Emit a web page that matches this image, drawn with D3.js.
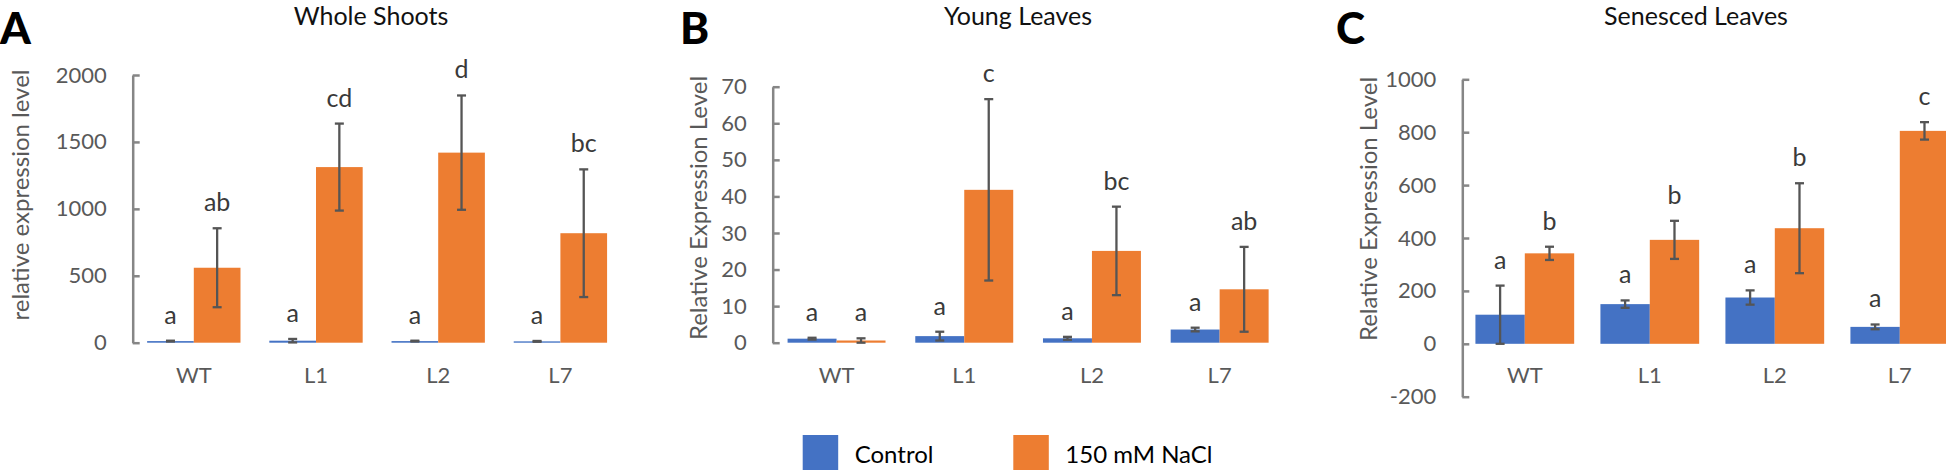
<!DOCTYPE html>
<html>
<head>
<meta charset="utf-8">
<script src="https://cdn.jsdelivr.net/npm/d3@7"></script>
<style>
  html, body { margin: 0; padding: 0; background: #fff; }
  svg { display: block; }
  text { font-family: Lato, "Open Sans", sans-serif; }
</style>
</head>
<body>
<svg id="chart" width="1946" height="470"></svg>
<script>
// ---------- data ----------
const categories = ["WT", "L1", "L2", "L7"];
const seriesNames = ["Control", "150 mM NaCl"];

const panelLetters = ["A", "B", "C"];
const panelTitles = ["Whole Shoots", "Young Leaves", "Senesced Leaves"];
const axisTitles = ["relative expression level", "Relative Expression Level", "Relative Expression Level"];

// Whole Shoots
const shootsControl = [12, 15, 12, 10];
const shootsControlErr = [3, 13, 3, 3];
const shootsNaCl = [560, 1312, 1420, 818];
const shootsNaClErr = [295, 325, 427, 477];
const shootsControlLetters = ["a", "a", "a", "a"];
const shootsNaClLetters = ["ab", "cd", "d", "bc"];
const shootsTicks = [0, 500, 1000, 1500, 2000];

// Young Leaves
const youngControl = [1.1, 1.8, 1.2, 3.6];
const youngControlErr = [0.25, 1.2, 0.4, 0.5];
const youngNaCl = [0.6, 41.8, 25.1, 14.6];
const youngNaClErr = [0.6, 24.8, 12.1, 11.6];
const youngControlLetters = ["a", "a", "a", "a"];
const youngNaClLetters = ["a", "c", "bc", "ab"];
const youngTicks = [0, 10, 20, 30, 40, 50, 60, 70];

// Senesced Leaves
const senescedControl = [110, 150, 175, 64];
const senescedControlErr = [110, 14, 27, 9];
const senescedNaCl = [342, 393, 437, 805];
const senescedNaClErr = [25, 72, 170, 33];
const senescedControlLetters = ["a", "a", "a", "a"];
const senescedNaClLetters = ["b", "b", "b", "c"];
const senescedTicks = [-200, 0, 200, 400, 600, 800, 1000];

// ---------- style ----------
const seriesColors = ["#4472C4", "#ED7D31"];
const axisColor = "#868686";
const labelColor = "#595959";
const letterColor = "#3a3a3a";
const errColor = "#555555";

const svg = d3.select("#chart");

// ---------- panel layouts ----------
const layouts = [
  { x0: 132.7, x1: 621.5, yTop: 75, yBottom: 342.7, domain: [0, 2000], pad: 0.236,
    titleX: 371, letterX: 0, axisTitleX: 19, axisTitleY: 195 },
  { x0: 772.7, x1: 1283.5, yTop: 86.7, yBottom: 342.7, domain: [0, 70], pad: 0.233,
    titleX: 1018, letterX: 680, axisTitleX: 697, axisTitleY: 208 },
  { x0: 1462.3, x1: 1962.3, yTop: 79.3, yBottom: 396.7, domain: [-200, 1000], pad: 0.21,
    titleX: 1696, letterX: 1336, axisTitleX: 1367, axisTitleY: 209 }
];

const panelData = [
  { ticks: shootsTicks, values: [shootsControl, shootsNaCl], errs: [shootsControlErr, shootsNaClErr],
    letters: [shootsControlLetters, shootsNaClLetters] },
  { ticks: youngTicks, values: [youngControl, youngNaCl], errs: [youngControlErr, youngNaClErr],
    letters: [youngControlLetters, youngNaClLetters] },
  { ticks: senescedTicks, values: [senescedControl, senescedNaCl], errs: [senescedControlErr, senescedNaClErr],
    letters: [senescedControlLetters, senescedNaClLetters] }
];

layouts.forEach((L, pi) => {
  const D = panelData[pi];
  const g = svg.append("g");

  const x = d3.scaleBand().domain(categories).range([L.x0, L.x1])
    .paddingInner(L.pad).paddingOuter(L.pad / 2);
  const xs = d3.scaleBand().domain(seriesNames).range([0, x.bandwidth()]);
  const y = d3.scaleLinear().domain(L.domain).range([L.yBottom, L.yTop]);

  // panel letter
  g.append("text").attr("x", L.letterX).attr("y", 44)
    .attr("font-size", 44).attr("font-weight", 900).attr("fill", "#000")
    .text(panelLetters[pi]);

  // title
  g.append("text").attr("x", L.titleX).attr("y", 25).attr("text-anchor", "middle")
    .attr("font-size", 25).attr("fill", "#111").text(panelTitles[pi]);

  // y-axis
  const ax = g.append("g").attr("transform", `translate(${L.x0},0)`)
    .call(d3.axisLeft(y).tickValues(D.ticks).tickSizeInner(-7).tickSizeOuter(0)
      .tickPadding(26).tickFormat(d => String(d)));
  ax.select(".domain").attr("stroke", axisColor).attr("stroke-width", 2.5);
  ax.selectAll(".tick line").attr("stroke", axisColor).attr("stroke-width", 2.5);
  ax.selectAll(".tick text").attr("font-size", 22).attr("fill", labelColor)
    .attr("font-family", "Lato, sans-serif");

  // axis title
  g.append("text")
    .attr("transform", `translate(${L.axisTitleX},${L.axisTitleY}) rotate(-90)`)
    .attr("text-anchor", "middle").attr("dominant-baseline", "central")
    .attr("font-size", 24).attr("fill", labelColor).text(axisTitles[pi]);

  // x labels
  g.selectAll(".xlab").data(categories).enter().append("text")
    .attr("x", d => x(d) + x.bandwidth() / 2).attr("y", 383)
    .attr("text-anchor", "middle").attr("font-size", 22).attr("fill", labelColor)
    .text(d => d);

  // bars, error bars, letters
  seriesNames.forEach((s, si) => {
    const recs = categories.map((c, i) => ({
      c, v: D.values[si][i], e: D.errs[si][i], lab: D.letters[si][i]
    }));
    const cx = d => x(d.c) + xs(s) + xs.bandwidth() / 2;

    g.selectAll(null).data(recs).enter().append("rect")
      .attr("x", d => x(d.c) + xs(s)).attr("width", xs.bandwidth())
      .attr("y", d => y(Math.max(0, d.v)))
      .attr("height", d => Math.abs(y(d.v) - y(0)))
      .attr("fill", seriesColors[si]);

    const eb = g.selectAll(null).data(recs).enter().append("g")
      .attr("stroke", errColor).attr("stroke-width", 2.3);
    eb.append("line").attr("x1", cx).attr("x2", cx)
      .attr("y1", d => y(d.v - d.e)).attr("y2", d => y(d.v + d.e));
    eb.append("line").attr("x1", d => cx(d) - 4.5).attr("x2", d => cx(d) + 4.5)
      .attr("y1", d => y(d.v + d.e)).attr("y2", d => y(d.v + d.e));
    eb.append("line").attr("x1", d => cx(d) - 4.5).attr("x2", d => cx(d) + 4.5)
      .attr("y1", d => y(d.v - d.e)).attr("y2", d => y(d.v - d.e));

    g.selectAll(null).data(recs).enter().append("text")
      .attr("x", cx).attr("y", d => y(d.v + d.e) - 17)
      .attr("text-anchor", "middle").attr("font-size", 25).attr("fill", letterColor)
      .text(d => d.lab);
  });
});

// ---------- legend ----------
const legendX = [802.7, 1013.3];
seriesNames.forEach((s, i) => {
  svg.append("rect").attr("x", legendX[i]).attr("y", 435).attr("width", 35.5).attr("height", 35)
    .attr("fill", seriesColors[i]);
  svg.append("text").attr("x", legendX[i] + 52).attr("y", 463)
    .attr("font-size", 24).attr("fill", "#000").text(s);
});
</script>
</body>
</html>
